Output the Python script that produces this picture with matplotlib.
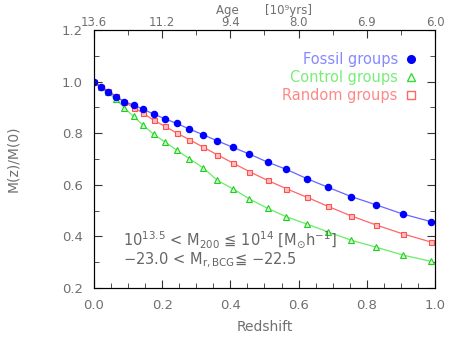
import matplotlib
matplotlib.use("Agg")
from matplotlib import pyplot as plt
from matplotlib.lines import Line2D
from matplotlib.ticker import MultipleLocator

# Redshift snapshots and normalised mass growth.
redshift = [0.0, 0.020, 0.041, 0.064, 0.089, 0.116, 0.144, 0.175, 0.208, 0.242,
            0.280, 0.320, 0.362, 0.408, 0.456, 0.509, 0.564, 0.624, 0.687,
            0.755, 0.828, 0.905, 0.989]
fossil = [1.0, 0.980, 0.961, 0.941, 0.922, 0.909, 0.893, 0.874, 0.856, 0.838,
          0.816, 0.794, 0.770, 0.745, 0.719, 0.688, 0.660, 0.624, 0.590,
          0.554, 0.522, 0.487, 0.457]
control = [1.0, 0.978, 0.958, 0.931, 0.899, 0.865, 0.831, 0.796, 0.766, 0.735,
           0.701, 0.666, 0.617, 0.584, 0.545, 0.509, 0.476, 0.448, 0.417,
           0.385, 0.358, 0.328, 0.303]
random_grp = [1.0, 0.980, 0.965, 0.944, 0.922, 0.899, 0.878, 0.850, 0.827, 0.801,
              0.775, 0.746, 0.716, 0.684, 0.651, 0.617, 0.585, 0.552, 0.516,
              0.479, 0.444, 0.410, 0.378]

age_ticks = [0.0, 0.2, 0.4, 0.6, 0.8, 1.0]
age_labels = ["13.6", "11.2", "9.4", "8.0", "6.9", "6.0"]

txt = "#707070"
plt.rcParams['font.family'] = ['DejaVu Sans']

fig = plt.figure(figsize=(4.63, 3.48), dpi=100)
ax = fig.add_axes([0.203, 0.1724, 0.7365, 0.7414])

ax.plot(redshift, control, '-', c='#66ee66', lw=0.9, marker='^', ms=3.8,
        mfc='#c8ffc8', mec='#22cc22', mew=0.8)
ax.plot(redshift, random_grp, '-', c='#ff6666', lw=0.9, marker='s', ms=3.6,
        mfc='#ffc0c0', mec='#ff5050', mew=0.8)
ax.plot(redshift, fossil, '-', c='#6666ff', lw=0.9, marker='o', ms=4.4,
        mfc='#0000ff', mec='#0000ff')

ax.set_xlim(0, 1)
ax.set_ylim(0.2, 1.2)
ax.xaxis.set_major_locator(MultipleLocator(0.2))
ax.xaxis.set_minor_locator(MultipleLocator(0.05))
ax.yaxis.set_major_locator(MultipleLocator(0.2))
ax.yaxis.set_minor_locator(MultipleLocator(0.1))
ax.xaxis.set_major_formatter(lambda v, p: f"{v:.1f}")
ax.yaxis.set_major_formatter(lambda v, p: f"{v:.1f}")
ax.tick_params(which='both', direction='in', right=True, colors='#333333',
               labelcolor=txt, labelsize=9.5, pad=8)
ax.tick_params(which='major', length=6)
ax.tick_params(which='minor', length=3.5)
for s in ax.spines.values():
    s.set_color('#333333')

ax.set_xlabel("Redshift", color=txt, fontsize=10, labelpad=6)
ax.set_ylabel("M(z)/M(0)", color=txt, fontsize=10, labelpad=30)

top = ax.twiny()
top.set_xlim(0, 1)
top.set_xticks(age_ticks)
top.set_xticklabels(age_labels)
top.xaxis.set_minor_locator(MultipleLocator(0.1))
top.tick_params(which='both', direction='in', colors='#333333',
                labelcolor=txt, labelsize=8.5, pad=0.5)
top.tick_params(which='major', length=6)
top.tick_params(which='minor', length=3.5)
top.set_xlabel("Age       [10⁹yrs]", color=txt, fontsize=8.5, labelpad=2)

handles = [
    Line2D([], [], ls='none', marker='o', ms=5.5, mfc='#0000ff', mec='#0000ff'),
    Line2D([], [], ls='none', marker='^', ms=5.5, mfc='none', mec='#33dd33'),
    Line2D([], [], ls='none', marker='s', ms=5.5, mfc='none', mec='#ff6666'),
]
ax.legend(handles, ["Fossil groups", "Control groups", "Random groups"],
          loc='upper right', bbox_to_anchor=(0.985, 0.965), frameon=False,
          markerfirst=False, handlelength=0.8, handletextpad=0.5,
          labelspacing=0.2, fontsize=10.5,
          labelcolor=['#8888ff', '#77ee77', '#ff8888'])

ax.text(0.085, 0.165, "10$^{13.5}$ < M$_{200}$ ≦ 10$^{14}$ [M$_{\\odot}$h$^{-1}$]",
        transform=ax.transAxes, color='#666666', fontsize=10.5)
ax.text(0.085, 0.09, "−23.0 < M$_{\\rm r,BCG}$≦ −22.5",
        transform=ax.transAxes, color='#666666', fontsize=10.5)

fig.savefig("out.png", dpi=100)
